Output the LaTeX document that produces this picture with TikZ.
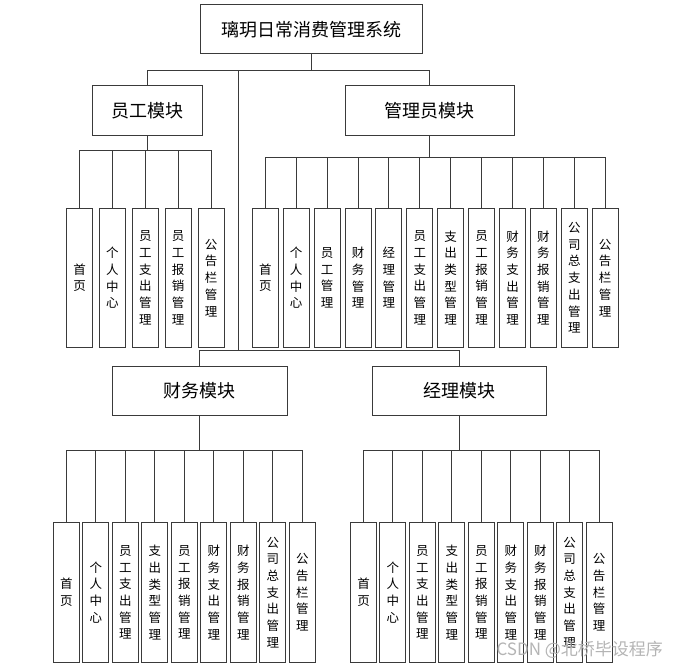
\documentclass[tikz,border=0pt]{standalone}
\usepackage{fontspec}
\setmainfont{Noto Sans CJK SC}
\usepackage{tikz}
\usetikzlibrary{positioning,calc}
\definecolor{LineGray}{HTML}{3A3A3A}
\definecolor{MarkGray}{HTML}{B4B4B4}
\tikzset{
  sysnode/.style={draw=LineGray, line width=1pt, minimum width=222pt, minimum height=49pt,
                  inner sep=0pt, font=\fontsize{18}{20}\selectfont},
  modnode/.style={draw=LineGray, line width=1pt, minimum height=49pt,
                  inner sep=0pt, font=\fontsize{18}{20}\selectfont},
  leafnode/.style={draw=LineGray, line width=1pt, minimum width=26pt, minimum height=139pt,
                  inner sep=0pt, align=center, font=\fontsize{12.5}{16.7}\selectfont},
  treeline/.style={LineGray, line width=1pt}
}

\begin{document}
\begin{tikzpicture}[x=1pt, y=-1pt]
\useasboundingbox (0,0) rectangle (699,669);
% root and modules
\node[sysnode] (sys) at (311,29.5) {璃玥日常消费管理系统};
\node[modnode, minimum width=110pt] (emp) at (147,110.5) {员工模块};
\node[modnode, minimum width=169pt] (adm) at (429.5,110.5) {管理员模块};
\node[modnode, minimum width=175pt] (fin) at (199.7,390.5) {财务模块};
\node[modnode, minimum width=174pt] (mgr) at (459,390.5) {经理模块};
% leaves
\foreach \t [count=\i] in {{首\\页},{个\\人\\中\\心},{员\\工\\支\\出\\管\\理},
    {员\\工\\报\\销\\管\\理},{公\\告\\栏\\管\\理}}
  \node[leafnode] (emp\i) at ({79.5+32.9*(\i-1)},277.8) {\t};
\foreach \t [count=\i] in {{首\\页},{个\\人\\中\\心},{员\\工\\管\\理},{财\\务\\管\\理},
    {经\\理\\管\\理},{员\\工\\支\\出\\管\\理},{支\\出\\类\\型\\管\\理},{员\\工\\报\\销\\管\\理},
    {财\\务\\支\\出\\管\\理},{财\\务\\报\\销\\管\\理},{公\\司\\总\\支\\出\\管\\理},{公\\告\\栏\\管\\理}}
  \node[leafnode] (adm\i) at ({265.3+30.9*(\i-1)},277.8) {\t};
\foreach \t [count=\i] in {{首\\页},{个\\人\\中\\心},{员\\工\\支\\出\\管\\理},{支\\出\\类\\型\\管\\理},
    {员\\工\\报\\销\\管\\理},{财\\务\\支\\出\\管\\理},{财\\务\\报\\销\\管\\理},
    {公\\司\\总\\支\\出\\管\\理},{公\\告\\栏\\管\\理}}
{
  \node[leafnode, minimum height=140pt] (fin\i) at ({66.3+29.5*(\i-1)},592.4) {\t};
  \node[leafnode, minimum height=140pt] (mgr\i) at ({363.5+29.46*(\i-1)},592.4) {\t};
}
% buses
\coordinate (topbus) at (311,71);
\coordinate (drop) at (238,71);
\coordinate (midbus) at (238,350);
\coordinate (empbus) at (147,150);
\coordinate (admbus) at (429.5,157.3);
\coordinate (finbus) at (199.7,450.7);
\coordinate (mgrbus) at (459,450.7);
% connectors
\draw[treeline] (sys.south) |- (emp.north |- topbus) -- (emp.north);
\draw[treeline] (sys.south) |- (adm.north |- topbus) -- (adm.north);
\draw[treeline] (drop) -- (midbus) -| (fin.north);
\draw[treeline] (midbus) -| (mgr.north);
\foreach \i in {1,...,5}
  \draw[treeline] (emp.south) |- (emp\i.north |- empbus) -- (emp\i.north);
\foreach \i in {1,...,12}
  \draw[treeline] (adm.south) |- (adm\i.north |- admbus) -- (adm\i.north);
\foreach \i in {1,...,9}
{
  \draw[treeline] (fin.south) |- (fin\i.north |- finbus) -- (fin\i.north);
  \draw[treeline] (mgr.south) |- (mgr\i.north |- mgrbus) -- (mgr\i.north);
}
% watermark
\node[text=MarkGray, font=\fontsize{17}{19}\selectfont, anchor=west] (mark) at (493,650) {CSDN @北桥毕设程序};
\end{tikzpicture}
\end{document}
